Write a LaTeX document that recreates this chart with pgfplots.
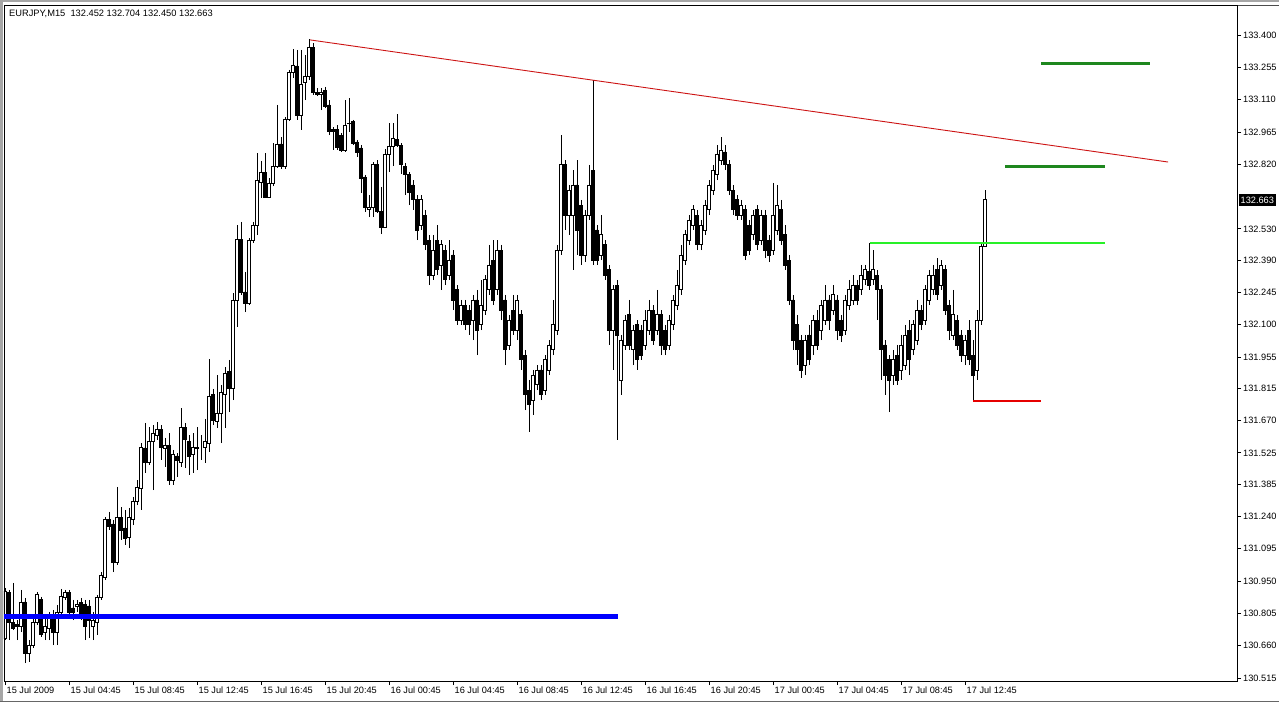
\documentclass[border=0pt]{standalone}
\usepackage{pgfplots}
\pgfplotsset{compat=1.18}
\usepackage{pgfplotstable}
\usepackage{fontspec}
\setmainfont{Liberation Sans}
\definecolor{trendred}{RGB}{205,20,20}
\definecolor{limegreen}{RGB}{40,240,40}
\definecolor{darkgreen}{RGB}{30,135,30}
\definecolor{lineblue}{RGB}{0,0,255}
\definecolor{stopred}{RGB}{230,0,0}
\pgfplotstableread{
i o h l c
0 130.694 130.919 130.685 130.901
1 130.897 130.910 130.685 130.762
2 130.762 130.942 130.730 130.739
3 130.757 130.775 130.685 130.748
4 130.744 130.910 130.721 130.856
5 130.856 130.874 130.582 130.627
6 130.627 130.685 130.587 130.662
7 130.662 130.784 130.649 130.766
8 130.766 130.901 130.753 130.888
9 130.865 130.879 130.699 130.708
10 130.717 130.784 130.685 130.744
11 130.739 130.811 130.685 130.784
12 130.798 130.820 130.662 130.721
13 130.717 130.843 130.662 130.811
14 130.811 130.915 130.802 130.879
15 130.874 130.910 130.865 130.897
16 130.897 130.910 130.798 130.807
17 130.829 130.865 130.775 130.807
18 130.834 130.865 130.811 130.843
19 130.852 130.874 130.775 130.798
20 130.843 130.865 130.685 130.744
21 130.838 130.865 130.694 130.775
22 130.744 130.811 130.685 130.771
23 130.766 130.888 130.708 130.874
24 130.874 130.990 130.865 130.977
25 130.964 131.237 130.955 131.224
26 131.224 131.260 131.179 131.197
27 131.206 131.224 130.990 131.035
28 131.035 131.372 131.022 131.233
29 131.233 131.282 131.134 131.179
30 131.188 131.269 131.112 131.143
31 131.147 131.278 131.098 131.233
32 131.224 131.327 131.201 131.305
33 131.305 131.403 131.291 131.372
34 131.367 131.569 131.269 131.551
35 131.547 131.659 131.435 131.484
36 131.484 131.641 131.471 131.574
37 131.574 131.650 131.358 131.614
38 131.605 131.663 131.583 131.628
39 131.632 131.650 131.493 131.551
40 131.547 131.592 131.462 131.560
41 131.560 131.614 131.381 131.403
42 131.403 131.538 131.381 131.516
43 131.511 131.524 131.417 131.489
44 131.484 131.726 131.462 131.641
45 131.641 131.659 131.457 131.583
46 131.574 131.605 131.426 131.511
47 131.516 131.614 131.435 131.551
48 131.547 131.641 131.448 131.551
49 131.547 131.605 131.493 131.547
50 131.551 131.677 131.480 131.574
51 131.569 131.946 131.529 131.776
52 131.785 131.812 131.650 131.672
53 131.668 131.874 131.637 131.704
54 131.704 131.830 131.569 131.794
55 131.789 131.910 131.637 131.883
56 131.892 131.942 131.708 131.812
57 131.812 132.242 131.762 132.211
58 132.211 132.547 132.090 132.484
59 132.484 132.561 132.234 132.247
60 132.247 132.337 132.157 132.197
61 132.197 132.489 132.188 132.480
62 132.480 132.561 132.467 132.547
63 132.547 132.870 132.503 132.749
64 132.740 132.835 132.669 132.781
65 132.781 132.870 132.669 132.673
66 132.673 132.758 132.669 132.736
67 132.736 132.915 132.722 132.812
68 132.808 133.086 132.803 132.911
69 132.911 132.942 132.799 132.812
70 132.812 133.032 132.799 133.023
71 133.019 133.243 133.014 133.234
72 133.234 133.337 133.207 133.265
73 133.261 133.333 133.019 133.041
74 133.041 133.333 132.974 133.176
75 133.185 133.310 133.108 133.212
76 133.212 133.382 133.198 133.342
77 133.342 133.364 133.131 133.140
78 133.144 133.162 133.126 133.135
79 133.131 133.162 133.063 133.144
80 133.153 133.167 133.072 133.081
81 133.086 133.108 132.951 132.965
82 132.978 132.987 132.884 132.969
83 132.974 132.996 132.884 132.897
84 132.947 132.960 132.875 132.884
85 132.884 133.108 132.875 132.992
86 133.001 133.117 132.965 133.005
87 133.010 133.019 132.906 132.915
88 132.920 132.929 132.853 132.875
89 132.893 132.906 132.691 132.758
90 132.763 132.772 132.606 132.628
91 132.619 132.682 132.583 132.624
92 132.624 132.830 132.583 132.821
93 132.821 132.839 132.601 132.606
94 132.606 132.718 132.507 132.538
95 132.538 132.888 132.534 132.866
96 132.862 133.005 132.785 132.902
97 132.902 133.005 132.812 132.938
98 132.933 133.045 132.897 132.906
99 132.906 132.915 132.776 132.817
100 132.812 132.826 132.682 132.776
101 132.776 132.785 132.637 132.695
102 132.727 132.749 132.615 132.660
103 132.660 132.682 132.480 132.525
104 132.547 132.682 132.525 132.660
105 132.592 132.615 132.435 132.458
106 132.480 132.503 132.278 132.323
107 132.323 132.503 132.301 132.435
108 132.480 132.547 132.323 132.346
109 132.368 132.480 132.256 132.458
110 132.435 132.458 132.278 132.301
111 132.323 132.480 132.301 132.390
112 132.413 132.435 132.166 132.211
113 132.256 132.278 132.099 132.121
114 132.121 132.211 132.099 132.188
115 132.188 132.211 132.076 132.099
116 132.166 132.188 132.054 132.099
117 132.121 132.234 132.031 132.211
118 132.211 132.256 131.964 132.076
119 132.099 132.301 132.076 132.188
120 132.166 132.323 132.144 132.301
121 132.256 132.458 132.234 132.368
122 132.390 132.480 132.188 132.211
123 132.256 132.480 132.234 132.435
124 132.435 132.458 132.121 132.166
125 132.211 132.234 131.919 131.987
126 132.009 132.144 131.987 132.121
127 132.166 132.234 132.054 132.076
128 132.076 132.234 132.031 132.211
129 132.144 132.166 131.897 131.942
130 131.964 131.987 131.717 131.785
131 131.807 131.852 131.619 131.740
132 131.762 131.897 131.695 131.874
133 131.830 131.919 131.807 131.897
134 131.897 131.919 131.762 131.785
135 131.807 131.964 131.785 131.942
136 131.897 132.031 131.874 132.009
137 131.987 132.211 131.964 132.099
138 132.076 132.458 132.054 132.435
139 132.435 132.951 132.413 132.817
140 132.817 132.839 132.525 132.592
141 132.592 132.727 132.503 132.704
142 132.592 132.794 132.346 132.727
143 132.727 132.839 132.413 132.525
144 132.637 132.660 132.368 132.413
145 132.413 132.615 132.381 132.592
146 132.592 132.817 132.570 132.727
147 132.794 133.198 132.368 132.390
148 132.525 132.547 132.368 132.390
149 132.413 132.592 132.390 132.503
150 132.458 132.480 132.301 132.323
151 132.346 132.368 132.009 132.076
152 132.076 132.278 131.897 132.256
153 132.278 132.301 131.583 132.054
154 131.852 132.054 131.785 132.031
155 132.009 132.144 131.987 132.121
156 132.144 132.211 131.987 132.009
157 131.987 132.099 131.919 132.076
158 132.099 132.121 131.897 131.942
159 132.076 132.099 131.942 131.964
160 132.009 132.166 131.987 132.121
161 132.076 132.211 132.054 132.166
162 132.166 132.188 132.009 132.031
163 132.076 132.256 132.054 132.144
164 132.144 132.166 131.964 132.009
165 132.076 132.099 131.964 131.987
166 132.009 132.144 131.987 132.121
167 132.099 132.234 132.076 132.211
168 132.188 132.346 132.166 132.278
169 132.256 132.458 132.234 132.413
170 132.390 132.525 132.368 132.503
171 132.480 132.592 132.458 132.570
172 132.547 132.637 132.525 132.615
173 132.592 132.615 132.435 132.458
174 132.458 132.570 132.435 132.547
175 132.525 132.660 132.503 132.637
176 132.615 132.749 132.592 132.727
177 132.704 132.817 132.682 132.794
178 132.772 132.906 132.749 132.862
179 132.839 132.942 132.817 132.884
180 132.875 132.906 132.794 132.817
181 132.817 132.839 132.682 132.704
182 132.704 132.727 132.592 132.615
183 132.660 132.682 132.570 132.592
184 132.592 132.660 132.570 132.637
185 132.615 132.637 132.390 132.413
186 132.547 132.570 132.413 132.435
187 132.503 132.615 132.480 132.592
188 132.615 132.637 132.435 132.458
189 132.480 132.615 132.458 132.592
190 132.592 132.615 132.399 132.435
191 132.480 132.503 132.381 132.413
192 132.435 132.736 132.413 132.592
193 132.525 132.727 132.503 132.637
194 132.615 132.660 132.458 132.480
195 132.503 132.547 132.346 132.368
196 132.390 132.413 132.188 132.211
197 132.211 132.234 131.987 132.031
198 132.099 132.144 131.919 131.987
199 132.031 132.054 131.861 131.897
200 131.919 132.054 131.874 132.031
201 132.054 132.099 131.919 131.942
202 132.009 132.144 131.964 132.121
203 132.121 132.166 131.987 132.009
204 132.076 132.211 132.031 132.188
205 132.121 132.278 132.099 132.211
206 132.211 132.234 132.076 132.121
207 132.166 132.278 132.144 132.234
208 132.211 132.234 132.031 132.076
209 132.121 132.144 132.022 132.054
210 132.076 132.234 132.054 132.211
211 132.188 132.301 132.166 132.256
212 132.211 132.323 132.188 132.278
213 132.278 132.301 132.188 132.211
214 132.256 132.368 132.234 132.323
215 132.301 132.368 132.278 132.346
216 132.337 132.467 132.256 132.278
217 132.301 132.435 132.278 132.346
218 132.323 132.346 132.121 132.256
219 132.256 132.278 131.852 131.987
220 132.009 132.031 131.785 131.874
221 131.942 131.964 131.708 131.852
222 131.874 131.987 131.830 131.942
223 131.964 132.009 131.830 131.852
224 131.897 132.054 131.852 132.009
225 131.919 132.099 131.897 132.054
226 132.076 132.121 131.874 131.942
227 131.987 132.121 131.964 132.099
228 132.031 132.211 132.009 132.166
229 132.166 132.188 132.076 132.099
230 132.121 132.278 132.099 132.256
231 132.211 132.346 132.188 132.323
232 132.256 132.368 132.234 132.323
233 132.346 132.399 132.211 132.234
234 132.278 132.390 132.256 132.368
235 132.346 132.368 132.144 132.166
236 132.188 132.211 132.031 132.076
237 132.054 132.256 132.031 132.144
238 132.121 132.144 131.987 132.009
239 132.054 132.076 131.933 131.964
240 131.964 132.054 131.919 132.031
241 132.076 132.121 131.919 131.942
242 131.964 132.031 131.758 131.874
243 131.897 132.166 131.852 132.121
244 132.121 132.467 132.099 132.453
245 132.452 132.704 132.450 132.663
}\candles
\begin{document}
\begin{tikzpicture}[x=1pt,y=1pt]
\useasboundingbox (0,0) rectangle (1279,702);
\fill[white] (0,0) rectangle (1279,702);
\fill[black!35] (0,0) rectangle (2.5,702);
\fill[black!35] (0,699.5) rectangle (1279,702);
\draw[black!60, line width=0.8pt] (0,1) -- (1279,1);
\draw[black!70, line width=0.8pt] (1237,697) -- (1279,697);
\pgfplotsset{chartdims/.style={scale only axis, width=1233pt, height=676pt,
  xmin=-0.25, xmax=308, at={(4pt,21pt)}, anchor=south west}}
% candle bodies (values shifted by 130 so that the bar base stays near the axis)
\begin{axis}[chartdims, ymin=0.5013, ymax=3.5346, hide axis, ybar stacked, bar width=2.4pt]
\addplot[draw=none, fill=none] table[x=i, y expr={min(\thisrow{o},\thisrow{c})-130}] {\candles};
\addplot[fill=white, draw=black, line width=0.9pt] table[x=i, y expr={max(\thisrow{c}-\thisrow{o},0)}] {\candles};
\addplot[fill=black, draw=black, line width=0.9pt] table[x=i, y expr={max(\thisrow{o}-\thisrow{c},0)}] {\candles};
\end{axis}
\begin{axis}[chartdims, ymin=130.5013, ymax=133.5346,
  axis line style={black, line width=0.9pt},
  tick align=outside, major tick length=4pt,
  tick style={black, line width=0.8pt},
  xtick={0,16,...,240},
  xticklabels={15 Jul 2009,15 Jul 04:45,15 Jul 08:45,15 Jul 12:45,15 Jul 16:45,15 Jul 20:45,16 Jul 00:45,16 Jul 04:45,16 Jul 08:45,16 Jul 12:45,16 Jul 16:45,16 Jul 20:45,17 Jul 00:45,17 Jul 04:45,17 Jul 08:45,17 Jul 12:45},
  xtick pos=left,
  ytick={133.400,133.255,133.110,132.965,132.820,132.530,132.390,132.245,132.100,131.955,131.815,131.670,131.525,131.385,131.240,131.095,130.950,130.805,130.660,130.515},
  yticklabels={133.400,133.255,133.110,132.965,132.820,132.530,132.390,132.245,132.100,131.955,131.815,131.670,131.525,131.385,131.240,131.095,130.950,130.805,130.660,130.515},
  ytick pos=right, yticklabel pos=right,
  ticklabel style={font=\fontsize{9.2}{10}\selectfont},
  xticklabel style={anchor=north west, inner sep=0pt, xshift=1.5pt, yshift=-1.5pt},
  yticklabel style={anchor=west, inner sep=0pt, xshift=2pt},
]
% wicks: upper (high down to body top) and lower (low up to body bottom)
\addplot[black, line width=0.9pt, mark=none, forget plot,
  quiver={u=0, v={max(\thisrow{o},\thisrow{c})-\thisrow{h}}}]
  table[x=i, y=h] {\candles};
\addplot[black, line width=0.9pt, mark=none, forget plot,
  quiver={u=0, v={min(\thisrow{o},\thisrow{c})-\thisrow{l}}}]
  table[x=i, y=l] {\candles};
% drawn lines
\addplot[trendred, line width=0.9pt] coordinates {(76.25,133.378) (290.75,132.830)};
\addplot[lineblue, line width=4.8pt] coordinates {(-0.25,130.789) (153.25,130.789)};
\addplot[limegreen, line width=1.7pt] coordinates {(216.25,132.467) (275,132.467)};
\addplot[darkgreen, line width=3pt] coordinates {(250,132.812) (275,132.812)};
\addplot[darkgreen, line width=3pt] coordinates {(259,133.274) (286.25,133.274)};
\addplot[stopred, line width=1.8pt] coordinates {(242,131.758) (259,131.758)};
\end{axis}
\node[anchor=west, inner sep=0pt, font=\fontsize{9.3}{10}\selectfont] at (9,688) {EURJPY,M15\ \ 132.452 132.704 132.450 132.663};
\node[anchor=west, fill=black, text=white, inner xsep=2pt, inner ysep=3pt, font=\fontsize{9.2}{10}\selectfont] at (1238.5,502) {132.663};
\end{tikzpicture}
\end{document}
